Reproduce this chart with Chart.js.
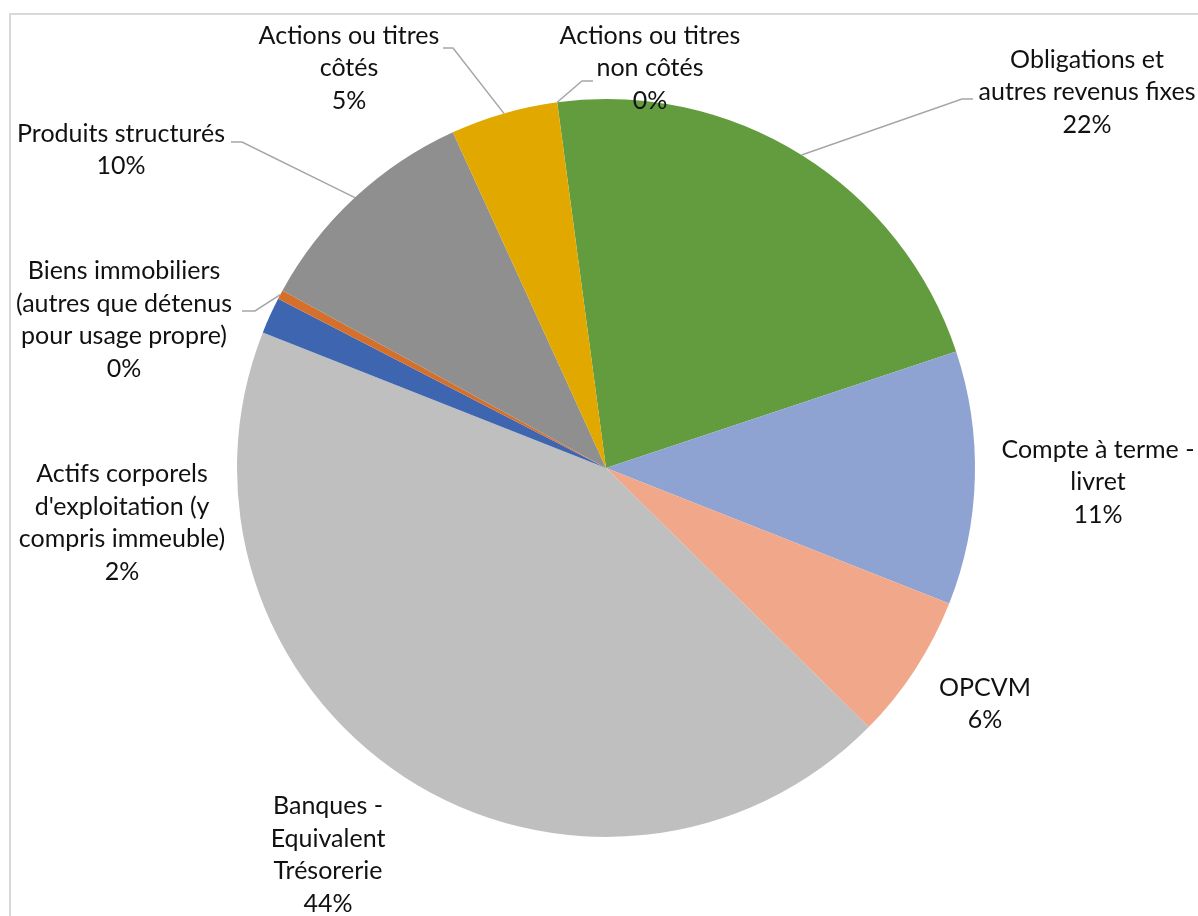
<!DOCTYPE html>
<html>
<head>
<meta charset="utf-8">
<title>Répartition des placements</title>
<script src="https://cdn.jsdelivr.net/npm/chart.js@4/dist/chart.umd.min.js"></script>
<style>
  html, body { margin: 0; padding: 0; background: #fff; }
  #wrap { width: 1198px; height: 916px; }
</style>
</head>
<body>
<div id="wrap"><canvas id="pieChart" width="1198" height="916"></canvas></div>
<script>
// categories (line breaks as shown on the labels)
var categories = [
  ['Obligations et', 'autres revenus fixes'],
  ['Compte à terme -', 'livret'],
  ['OPCVM'],
  ['Banques -', 'Equivalent', 'Trésorerie'],
  ['Actifs corporels', "d'exploitation (y", 'compris immeuble)'],
  ['Biens immobiliers', '(autres que détenus', 'pour usage propre)'],
  ['Produits structurés'],
  ['Actions ou titres', 'côtés'],
  ['Actions ou titres', 'non côtés']
];
// share of each asset class (%)
var values = [22.0, 11.1, 6.4, 43.6, 1.6, 0.4, 10.2, 4.7, 0.0];
var colors = ['#629c3f', '#8fa3d3', '#f1a88a', '#bfbfbf', '#3d65b0', '#d4702c', '#8f8f8f', '#e1a800', '#4a7ebb'];

// label centre offsets from the pie centre (px for a 369px radius)
var labelOffsets = [[481, -376], [492, 14], [379, 236], [-278, 387], [-484, 55], [-482, -148], [-485, -318], [-257, -400], [44, -400]];
// leader lines: [end x, end y relative to label centre, horizontal elbow length]
var leaders = [[-114, 7, -11], null, null, null, null, [118, -9, 13], [110, -8, 11], [94, -20, 10], [-57, 13, -11]];

var total = values.reduce(function (a, b) { return a + b; }, 0);

var framePlugin = {
  id: 'frame',
  beforeDraw: function (chart) {
    var ctx = chart.ctx;
    ctx.save();
    ctx.fillStyle = '#fff';
    ctx.fillRect(0, 0, chart.width, chart.height);
    ctx.strokeStyle = '#d9d9d9';
    ctx.lineWidth = 2;
    ctx.beginPath();
    ctx.moveTo(10, chart.height + 5);
    ctx.lineTo(10, 14);
    ctx.lineTo(chart.width + 5, 14);
    ctx.stroke();
    ctx.restore();
  }
};

var labelPlugin = {
  id: 'pieLabels',
  afterDatasetsDraw: function (chart) {
    var ctx = chart.ctx;
    var meta = chart.getDatasetMeta(0);
    var lineH = 32.5;
    ctx.save();
    ctx.font = '25px Lato';
    ctx.textAlign = 'center';
    ctx.textBaseline = 'middle';
    meta.data.forEach(function (arc, i) {
      var p = arc.getProps(['x', 'y', 'startAngle', 'endAngle', 'outerRadius'], true);
      var k = p.outerRadius / 369;
      var lx = p.x + labelOffsets[i][0] * k;
      var ly = p.y + labelOffsets[i][1] * k;
      var lines = categories[i].concat([Math.round(values[i] / total * 100) + '%']);

      if (leaders[i]) {
        var mid = (p.startAngle + p.endAngle) / 2;
        var sx = p.x + Math.cos(mid) * p.outerRadius;
        var sy = p.y + Math.sin(mid) * p.outerRadius;
        var ex = lx + leaders[i][0];
        var ey = ly + leaders[i][1];
        ctx.strokeStyle = '#a6a6a6';
        ctx.lineWidth = 1.5;
        ctx.beginPath();
        ctx.moveTo(sx, sy);
        ctx.lineTo(ex + leaders[i][2], ey);
        ctx.lineTo(ex, ey);
        ctx.stroke();
      }

      ctx.fillStyle = '#111';
      lines.forEach(function (t, j) {
        ctx.fillText(t, lx, ly + (j - (lines.length - 1) / 2) * lineH);
      });
    });
    ctx.restore();
  }
};

var pieCtx = document.getElementById('pieChart').getContext('2d');
var pieChart = new Chart(pieCtx, {
  type: 'pie',
  data: {
    labels: categories.map(function (c) { return c.join(' '); }),
    datasets: [{
      data: values,
      backgroundColor: colors,
      borderWidth: 0
    }]
  },
  options: {
    responsive: false,
    animation: false,
    rotation: -7.6,
    layout: { padding: { left: 237, top: 99, right: 223, bottom: 79 } },
    plugins: {
      legend: { display: false },
      tooltip: { enabled: false }
    }
  },
  plugins: [framePlugin, labelPlugin]
});
</script>
</body>
</html>
